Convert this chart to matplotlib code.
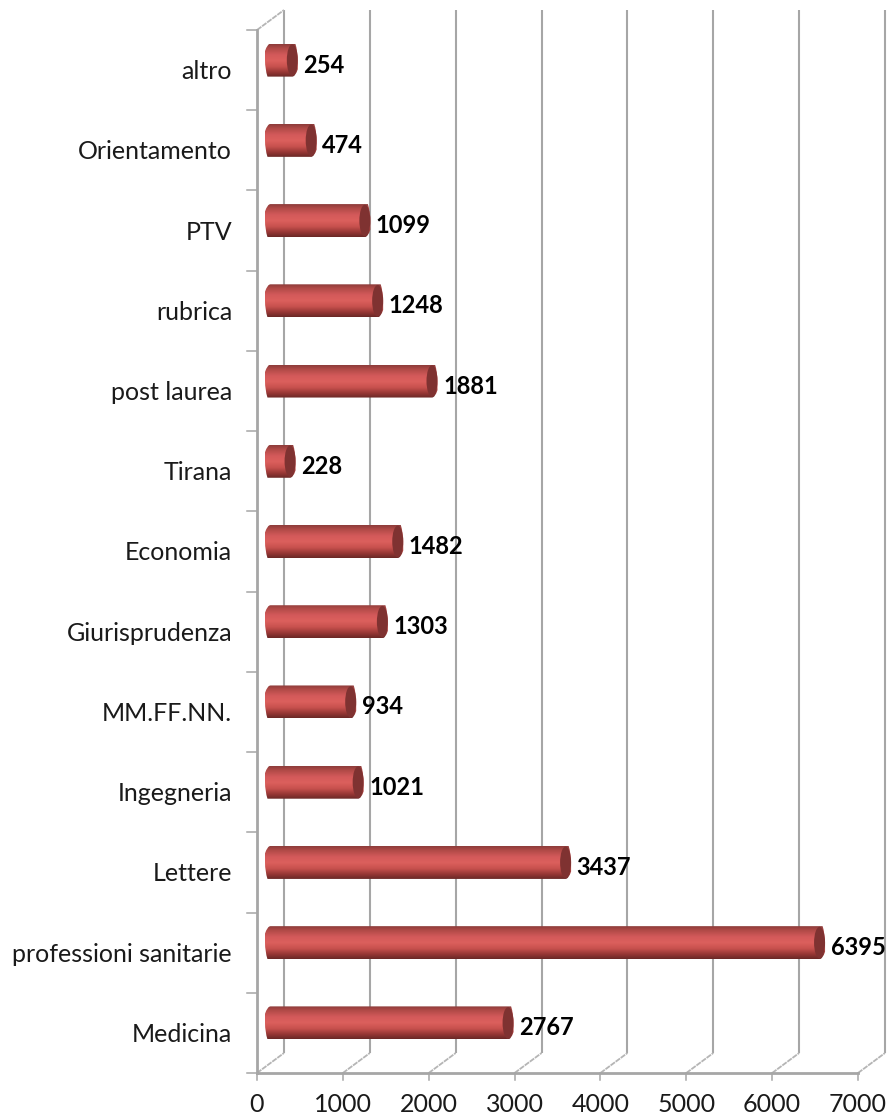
import numpy as np
import matplotlib
matplotlib.use("Agg")
import matplotlib.pyplot as plt
from matplotlib.colors import LinearSegmentedColormap
from matplotlib.patches import Ellipse, PathPatch
from matplotlib.path import Path

categories = ["Medicina", "professioni sanitarie", "Lettere", "Ingegneria", "MM.FF.NN.",
              "Giurisprudenza", "Economia", "Tirana", "post laurea", "rubrica",
              "PTV", "Orientamento", "altro"]
values = [2767, 6395, 3437, 1021, 934, 1303, 1482, 228, 1881, 1248, 1099, 474, 254]
x_ticks = [0, 1000, 2000, 3000, 4000, 5000, 6000, 7000]

W, H = 888, 1120
plt.rcParams['font.family'] = ['Lato', 'DejaVu Sans']
fig = plt.figure(figsize=(W / 100, H / 100), dpi=100)
L, R, T, B = 257, 858, 30, 1073
ax = fig.add_axes([L / W, 1 - B / H, (R - L) / W, (B - T) / H])
n = len(categories)
ax.set_xlim(0, 7000)
ax.set_ylim(0, n)
ax.axis('off')

px_x = 7000 / (R - L)
px_y = n / (B - T)
dx, dy = 27 * px_x, 20 * px_y   # depth of the 3D box
grid = '#a6a6a6'
text_c = '#1a1a1a'

# back walls and floor lines
for v in x_ticks:
    ax.plot([v + dx, v + dx], [dy, n + dy], color=grid, lw=1.5, clip_on=False, zorder=1, solid_capstyle='butt')
    ax.plot([v, v + dx], [0, dy], color='#b5b5b5', lw=1.3, clip_on=False, zorder=1, ls=(0, (3, 0.5)))
    ax.plot([v, v], [0, -7 * px_y], color=grid, lw=1.1, clip_on=False, zorder=2)
    ax.text(v, -32 * px_y, f"{v}", ha='center', va='center', fontsize=18, color=text_c, clip_on=False)
ax.plot([0, dx], [n, n + dy], color='#b5b5b5', lw=1.3, clip_on=False, zorder=1, ls=(0, (3, 0.5)))
ax.plot([0, 7000], [0, 0], color=grid, lw=2.0, clip_on=False, zorder=2)
ax.plot([0, 0], [0, n], color=grid, lw=2.0, clip_on=False, zorder=2)
for i in range(n + 1):
    ax.plot([-10 * px_x, 0], [i, i], color=grid, lw=1.1, clip_on=False, zorder=2)

cmap = LinearSegmentedColormap.from_list('cyl', [
    (0.0, '#8e3c3a'), (0.12, '#b04a47'), (0.32, '#d3595a'), (0.5, '#dc605d'),
    (0.68, '#c8514e'), (0.86, '#963735'), (1.0, '#6b2826')])
grad = np.linspace(0, 1, 64).reshape(-1, 1)

cap_w = 5.5 * px_x
bar_h = 33 * px_y
off_x, off_y = dx / 2, dy / 2
for i, (cat, v) in enumerate(zip(categories, values)):
    yc = i + 0.5 + off_y
    x0, x1 = off_x, off_x + v
    y0, y1 = yc - bar_h / 2, yc + bar_h / 2
    k = 0.55
    verts = [(x0, y0), (x1, y0), (x1 + cap_w * k, y0), (x1 + cap_w, yc - bar_h / 2 * k), (x1 + cap_w, yc),
             (x1 + cap_w, yc + bar_h / 2 * k), (x1 + cap_w * k, y1), (x1, y1), (x0, y1),
             (x0 - cap_w * k, y1), (x0 - cap_w, yc + bar_h / 2 * k), (x0 - cap_w, yc),
             (x0 - cap_w, yc - bar_h / 2 * k), (x0 - cap_w * k, y0), (x0, y0), (x0, y0)]
    codes = [Path.MOVETO, Path.LINETO, Path.CURVE3, Path.CURVE3, Path.LINETO,
             Path.CURVE3, Path.CURVE3, Path.LINETO, Path.LINETO,
             Path.CURVE3, Path.CURVE3, Path.LINETO,
             Path.CURVE3, Path.CURVE3, Path.LINETO, Path.CLOSEPOLY]
    clip = PathPatch(Path(verts, codes), transform=ax.transData, fc='none', ec='none')
    ax.add_patch(clip)
    im = ax.imshow(grad, extent=(x0 - cap_w, x1 + cap_w, y0, y1), origin='upper', aspect='auto',
                   cmap=cmap, zorder=3, interpolation='bilinear')
    im.set_clip_path(clip)
    ax.add_patch(Ellipse((x1, yc), 2 * cap_w, bar_h * 0.96, fc='#7f3231', ec='none', zorder=4, clip_on=False))
    ax.text(x1 + cap_w + 5.5 * px_x, yc - 5 * px_y, f"{v}", ha='left', va='center', fontsize=17,
            fontweight='bold', color='black', zorder=5, clip_on=False)
    ax.text(-25 * px_x, i + 0.5 - 1.5 * px_y, cat, ha='right', va='center', fontsize=18, color=text_c, clip_on=False)

ax.set_xlim(0, 7000)
ax.set_ylim(0, n)
fig.savefig('out.png', dpi=100, facecolor='white')
